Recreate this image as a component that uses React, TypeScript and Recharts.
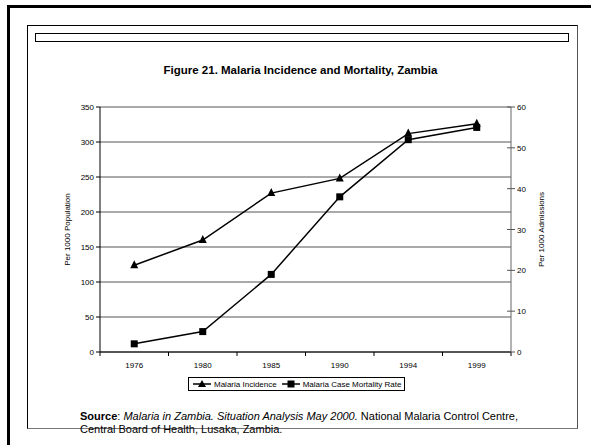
import React from "react";
import { LineChart, Line, XAxis, YAxis, CartesianGrid, Legend } from "recharts";

const years = ["1976", "1980", "1985", "1990", "1994", "1999"];
const incidence = [124, 160, 227, 248, 312, 326];
const mortality = [2, 5, 19, 38, 52, 55];
const leftTicks = [0, 50, 100, 150, 200, 250, 300, 350];
const rightTicks = [0, 10, 20, 30, 40, 50, 60];

const data = years.map((y, i) => ({
  year: y,
  incidence: incidence[i],
  mortality: mortality[i],
}));

const FONT = "'Liberation Sans', Arial, sans-serif";
const BAND = 411 / years.length;

const Triangle = (props: any) => {
  const { cx, cy } = props;
  if (cx == null || cy == null) return null;
  return <polygon points={`${cx},${cy - 5} ${cx - 4},${cy + 3} ${cx + 4},${cy + 3}`} fill="#000" />;
};

const Square = (props: any) => {
  const { cx, cy } = props;
  if (cx == null || cy == null) return null;
  return <rect x={cx - 3.5} y={cy - 3.5} width={7} height={7} fill="#000" />;
};

const XTick = (props: any) => {
  const { x, y, payload, index } = props;
  return (
    <g>
      <line x1={x - BAND / 2} x2={x - BAND / 2} y1={y} y2={y + 4} stroke="#000" />
      {index === years.length - 1 && (
        <line x1={x + BAND / 2} x2={x + BAND / 2} y1={y} y2={y + 4} stroke="#000" />
      )}
      <text x={x} y={y + 16} textAnchor="middle" fontSize={8} fontFamily={FONT} fill="#000">
        {payload.value}
      </text>
    </g>
  );
};

const LeftTick = (props: any) => {
  const { x, y, payload } = props;
  return (
    <g>
      <line x1={x - 4} x2={x} y1={y} y2={y} stroke="#000" />
      <text x={x - 6} y={y + 3} textAnchor="end" fontSize={8} fontFamily={FONT} fill="#000">
        {payload.value}
      </text>
    </g>
  );
};

const RightTick = (props: any) => {
  const { x, y, payload } = props;
  return (
    <g>
      <line x1={x - 4} x2={x + 4} y1={y} y2={y} stroke="#555" />
      <text x={x + 6} y={y + 3} textAnchor="start" fontSize={8} fontFamily={FONT} fill="#000">
        {payload.value}
      </text>
    </g>
  );
};

const axisLabel = (text: string, dx: number) => (p: any) => {
  const vb = p.viewBox || {};
  const x = vb.x + dx;
  const y = vb.y + vb.height / 2;
  return (
    <text
      x={x}
      y={y}
      transform={`rotate(-90 ${x} ${y})`}
      textAnchor="middle"
      dominantBaseline="central"
      fontSize={8}
      fontFamily={FONT}
      fill="#000"
    >
      {text}
    </text>
  );
};

const LegendBox = () => (
  <div
    style={{
      display: "flex",
      alignItems: "center",
      border: "1px solid #000",
      padding: "1px 3px",
      fontFamily: FONT,
      fontSize: 8,
      background: "#fff",
      whiteSpace: "nowrap",
    }}
  >
    <svg width={20} height={10}>
      <line x1={1} x2={19} y1={5} y2={5} stroke="#000" strokeWidth={1.5} />
      <polygon points="10,1 6,8 14,8" fill="#000" />
    </svg>
    <span style={{ marginLeft: 2, marginRight: 4 }}>Malaria Incidence</span>
    <svg width={20} height={10}>
      <line x1={1} x2={19} y1={5} y2={5} stroke="#000" strokeWidth={1.5} />
      <rect x={6.5} y={1.5} width={7} height={7} fill="#000" />
    </svg>
    <span style={{ marginLeft: 2 }}>Malaria Case Mortality Rate</span>
  </div>
);

export default function App() {
  return (
    <div
      style={{
        position: "absolute",
        left: 0,
        top: 0,
        width: 591,
        height: 445,
        background: "#fff",
        overflow: "hidden",
        fontFamily: FONT,
      }}
    >
      <div
        style={{
          position: "absolute",
          left: 7,
          top: 5,
          width: 620,
          height: 480,
          borderLeft: "3px solid #000",
          borderTop: "3px solid #000",
        }}
      />
      <div
        style={{
          position: "absolute",
          left: 27,
          top: 25,
          width: 549,
          height: 402,
          borderLeft: "1px solid #000",
          borderTop: "1px solid #000",
          borderRight: "1px solid #555",
          borderBottom: "1px solid #777",
        }}
      />
      <div
        style={{
          position: "absolute",
          left: 35,
          top: 33,
          width: 532,
          height: 7,
          border: "1px solid #000",
        }}
      />
      <div
        style={{
          position: "absolute",
          left: 95,
          width: 411,
          top: 64,
          textAlign: "center",
          fontWeight: "bold",
          fontSize: 11.5,
        }}
      >
        Figure 21. Malaria Incidence and Mortality, Zambia
      </div>
      <div style={{ position: "absolute", left: 0, top: 0 }}>
        <LineChart
          width={591}
          height={445}
          data={data}
          margin={{ top: 107, right: 40, bottom: 63, left: 60 }}
        >
          <CartesianGrid yAxisId="left" vertical={false} stroke="#555" />
          <XAxis
            dataKey="year"
            height={30}
            padding={{ left: BAND / 2, right: BAND / 2 }}
            axisLine={{ stroke: "#000" }}
            tickLine={false}
            tickSize={0}
            tickMargin={0}
            tick={<XTick />}
            interval={0}
          />
          <YAxis
            yAxisId="left"
            width={40}
            domain={[0, 350]}
            ticks={leftTicks}
            axisLine={{ stroke: "#000" }}
            tickLine={false}
            tickSize={0}
            tickMargin={0}
            tick={<LeftTick />}
            label={{ content: axisLabel("Per 1000 Population", 7) }}
          />
          <YAxis
            yAxisId="right"
            orientation="right"
            width={40}
            domain={[0, 60]}
            ticks={rightTicks}
            axisLine={{ stroke: "#666" }}
            tickLine={false}
            tickSize={0}
            tickMargin={0}
            tick={<RightTick />}
            label={{ content: axisLabel("Per 1000 Admissions", 30) }}
          />
          <Legend
            verticalAlign="middle"
            align="center"
            layout="horizontal"
            wrapperStyle={{ top: 377, left: 188, width: "auto", height: 16 }}
            content={() => <LegendBox />}
          />
          <Line
            yAxisId="left"
            dataKey="incidence"
            name="Malaria Incidence"
            stroke="#000"
            strokeWidth={1.5}
            dot={<Triangle />}
            isAnimationActive={false}
          />
          <Line
            yAxisId="right"
            dataKey="mortality"
            name="Malaria Case Mortality Rate"
            stroke="#000"
            strokeWidth={1.5}
            dot={<Square />}
            isAnimationActive={false}
          />
        </LineChart>
      </div>
      <div
        style={{
          position: "absolute",
          left: 80,
          top: 410,
          fontSize: 11,
          lineHeight: "13px",
          color: "#000",
        }}
      >
        <b>Source</b>: <i>Malaria in Zambia. Situation Analysis May 2000.</i> National Malaria Control Centre,
        <br />
        Central Board of Health, Lusaka, Zambia.
      </div>
    </div>
  );
}
